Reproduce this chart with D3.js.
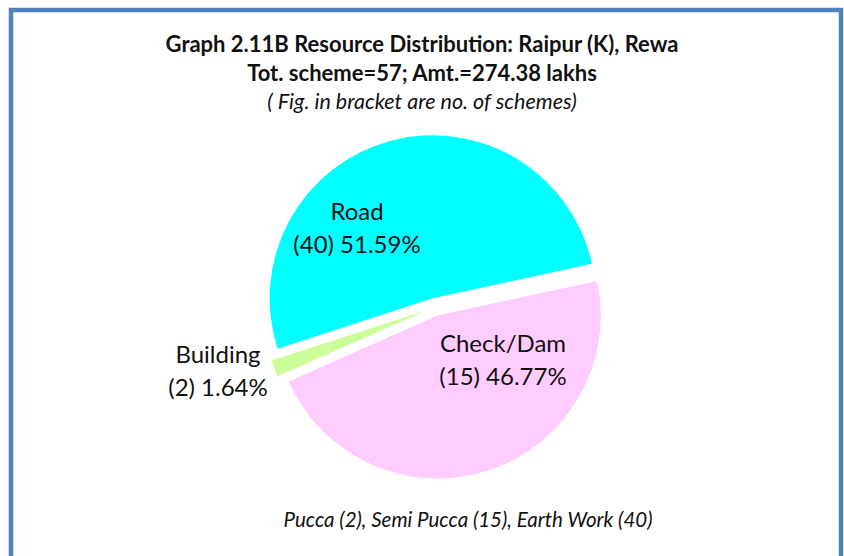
<!DOCTYPE html>
<html>
<head>
<meta charset="utf-8">
<script src="https://cdn.jsdelivr.net/npm/d3@7"></script>
<style>
  body { margin: 0; background: #fff; }
  svg { display: block; }
  text { font-family: Lato, "Open Sans", sans-serif; fill: #111; }
</style>
</head>
<body>
<div id="chart"></div>
<script>
var categories = ['Road', 'Check/Dam', 'Building'];
var schemes = [40, 15, 2];
var percents = [51.59, 46.77, 1.64];
var colors = ['#00ffff', '#ffccff', '#ccff99'];
var titleLines = [
  'Graph 2.11B Resource Distribution: Raipur (K), Rewa',
  'Tot. scheme=57; Amt.=274.38 lakhs',
  '( Fig. in bracket are no. of schemes)'
];
var footnote = 'Pucca (2), Semi Pucca (15), Earth Work (40)';

var width = 844, height = 556
  , cx = 435, cy = 307
  , radius = 163
  , explode = 9;

// label centres, relative to the pie centre
var labelOffset = {
  'Road': [-78, -87],
  'Check/Dam': [68, 45],
  'Building': [-217, 56]
};

var svg = d3.select('#chart').append('svg')
  .attr('width', width)
  .attr('height', height);

svg.append('rect')
  .attr('x', 11).attr('y', 10)
  .attr('width', 830).attr('height', 560)
  .attr('fill', 'none')
  .attr('stroke', '#4f81bd')
  .attr('stroke-width', 4.5);

var data = categories.map(function(c, i) {
  return { name: c, n: schemes[i], pct: percents[i], color: colors[i] };
});

var pie = d3.pie()
  .sort(null)
  .value(function(d) { return d.pct; })
  .startAngle(-108 * Math.PI / 180)
  .endAngle(252 * Math.PI / 180);

var arc = d3.arc().innerRadius(0).outerRadius(radius);

var g = svg.append('g').attr('transform', 'translate(' + cx + ',' + cy + ')');

g.selectAll('path')
  .data(pie(data))
  .enter().append('path')
  .attr('d', arc)
  .attr('fill', function(d) { return d.data.color; })
  .attr('transform', function(d) {
    var a = (d.startAngle + d.endAngle) / 2;
    return 'translate(' + (Math.sin(a) * explode) + ',' + (-Math.cos(a) * explode) + ')';
  });

var labels = g.selectAll('text.lbl')
  .data(pie(data))
  .enter().append('text')
  .attr('class', 'lbl')
  .attr('text-anchor', 'middle')
  .attr('font-size', 24)
  .attr('transform', function(d) {
    var o = labelOffset[d.data.name];
    return 'translate(' + o[0] + ',' + o[1] + ')';
  });
labels.append('tspan')
  .attr('x', 0).attr('y', 0)
  .text(function(d) { return d.data.name; });
labels.append('tspan')
  .attr('x', 0).attr('dy', 33)
  .text(function(d) { return '(' + d.data.n + ') ' + d.data.pct.toFixed(2) + '%'; });

svg.selectAll('text.title')
  .data(titleLines)
  .enter().append('text')
  .attr('class', 'title')
  .attr('x', 422)
  .attr('y', function(d, i) { return 52 + i * 28.5; })
  .attr('text-anchor', 'middle')
  .attr('font-size', function(d, i) { return i < 2 ? 22 : 21.5; })
  .attr('font-weight', function(d, i) { return i < 2 ? 'bold' : 'normal'; })
  .attr('font-style', function(d, i) { return i < 2 ? 'normal' : 'italic'; })
  .text(function(d) { return d; });

svg.append('text')
  .attr('x', 468).attr('y', 527)
  .attr('text-anchor', 'middle')
  .attr('font-size', 20.5)
  .attr('font-style', 'italic')
  .text(footnote);
</script>
</body>
</html>
